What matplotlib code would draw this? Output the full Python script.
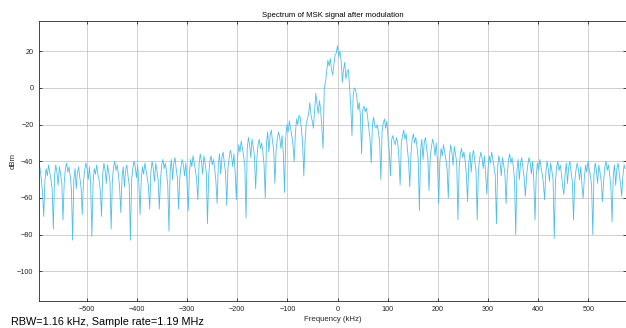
import numpy as np
import matplotlib
matplotlib.use("Agg")
import matplotlib.pyplot as plt

plt.rcParams['font.family'] = ['Liberation Sans', 'DejaVu Sans']

# frequency grid of the spectrum (kHz)
freq_start = -595.2
freq_step = 2.4

# power in dBm, one row per spectral lobe
left_edge = [-41, -44, -50, -57]

left_wing = [
    -70, -51, -44, -48, -42, -46, -50, -55,
    -77, -48, -42, -46, -53, -43, -47, -52,
    -72, -52, -44, -41, -46, -43, -48, -55,
    -83, -50, -44, -55, -46, -43, -49, -54,
    -69, -51, -45, -41, -44, -50, -43, -53,
    -81, -52, -44, -47, -42, -47, -50, -56,
    -70, -47, -41, -45, -52, -42, -46, -51,
    -77, -51, -43, -40, -45, -42, -47, -54,
    -68, -49, -43, -54, -45, -42, -48, -53,
    -83, -50, -44, -40, -43, -49, -42, -52,
    -69, -50, -43, -47, -41, -45, -49, -54,
    -66, -46, -40, -44, -51, -41, -45, -50,
    -66, -50, -42, -39, -44, -41, -46, -53,
    -78, -45, -39, -50, -41, -38, -44, -49,
    -66, -49, -43, -39, -42, -48, -41, -51,
    -67, -46, -39, -43, -37, -41, -45, -50,
    -61, -42, -36, -40, -47, -37, -41, -46,
    -74, -48, -40, -37, -42, -39, -44, -51,
    -63, -42, -36, -47, -38, -35, -41, -46,
    -64, -44, -38, -34, -37, -43, -36, -46,
    -61, -38, -31, -35, -29, -33, -37, -42,
    -71, -33, -27, -31, -38, -28, -32, -37,
    -55, -39, -31, -28, -33, -30, -35, -42,
    -60, -30, -24, -35, -26, -23, -29, -34,
    -52, -34, -28, -24, -27, -33, -26, -36,
    -57, -27, -20, -24, -18, -22, -26, -31,
    -40, -25, -17, -20, -15, -16, -22, -30,
]

main_lobe = [
    -48, -30, -20, -17, -14, -8, -15, -18,
    -22, -12, -3, -9, -14, -7, -12, -22,
    -33, 0, 3, 9, 15, 12, 16, 10,
    7, 13, 18, 19, 23, 17, 20, 15,
    3, 10, 14, 5, 9, 10, 1, -10,
    -26, -4, 0, -1, -5, -12, -8, -15,
    -36, -12, -10, -13, -11, -16, -22, -28,
    -41, -20, -16, -21, -22, -20, -24, -30,
    -50, -24, -19, -17, -22, -18, -28, -35,
    -48, -28, -26, -29, -31, -27, -30, -38,
    -53, -30, -26, -23, -28, -25, -33, -40,
]

right_wing = [
    -54, -36, -28, -25, -30, -27, -32, -39,
    -67, -34, -28, -39, -30, -27, -33, -38,
    -56, -38, -32, -28, -31, -37, -30, -40,
    -63, -40, -33, -37, -31, -35, -39, -44,
    -60, -37, -31, -35, -42, -32, -36, -41,
    -72, -44, -36, -33, -38, -35, -40, -47,
    -62, -41, -35, -46, -37, -34, -40, -45,
    -72, -45, -39, -35, -38, -44, -37, -47,
    -58, -44, -37, -41, -35, -39, -43, -48,
    -74, -43, -37, -41, -48, -38, -42, -47,
    -63, -47, -39, -36, -41, -38, -43, -50,
    -80, -45, -39, -50, -41, -38, -44, -49,
    -59, -48, -42, -38, -41, -47, -40, -50,
    -72, -48, -41, -45, -39, -43, -47, -52,
    -61, -46, -40, -44, -51, -41, -45, -50,
    -82, -51, -43, -40, -45, -42, -47, -54,
    -58, -47, -41, -52, -43, -40, -46, -51,
    -72, -51, -45, -41, -44, -50, -43, -53,
    -60, -49, -42, -46, -40, -44, -48, -53,
    -80, -47, -41, -45, -52, -42, -46, -51,
    -62, -51, -43, -40, -45, -42, -47, -54,
    -73, -48, -42, -53, -44, -41, -47, -52,
]

right_edge = [-59, -48, -42, -44]

power = np.array(left_edge + left_wing + main_lobe + right_wing + right_edge, dtype=float)
freq = freq_start + freq_step * np.arange(len(power))

fig = plt.figure(figsize=(6.26, 3.28), dpi=100)
ax = fig.add_axes([0.0623, 0.0832, 0.9377, 0.853])

ax.plot(freq, power, color='#4DBEEE', linewidth=0.6)

ax.set_xlim(-595, 575)
ax.set_ylim(-116, 36.5)
ax.set_xticks(np.arange(-500, 501, 100))
ax.set_yticks(np.arange(-100, 21, 20))

ax.grid(True, color='#c8c8c8', linewidth=0.6)
ax.set_axisbelow(True)
ax.tick_params(direction='in', top=True, right=True, length=2.5, width=0.6,
               labelsize=5.2, colors='#262626', pad=4)
for s in ax.spines.values():
    s.set_color('#262626')
    s.set_linewidth(0.6)

ax.set_title('Spectrum of MSK signal after modulation', fontsize=5.6, pad=3)
ax.set_xlabel('Frequency (kHz)', fontsize=5.6, labelpad=2, color='#262626')
ax.set_ylabel('dBm', fontsize=5.6, labelpad=0.5, color='#262626')

fig.text(0.0176, 0.018, 'RBW=1.16 kHz, Sample rate=1.19 MHz', fontsize=7.8,
         va='center', ha='left')

fig.savefig('out.png', dpi=100)
